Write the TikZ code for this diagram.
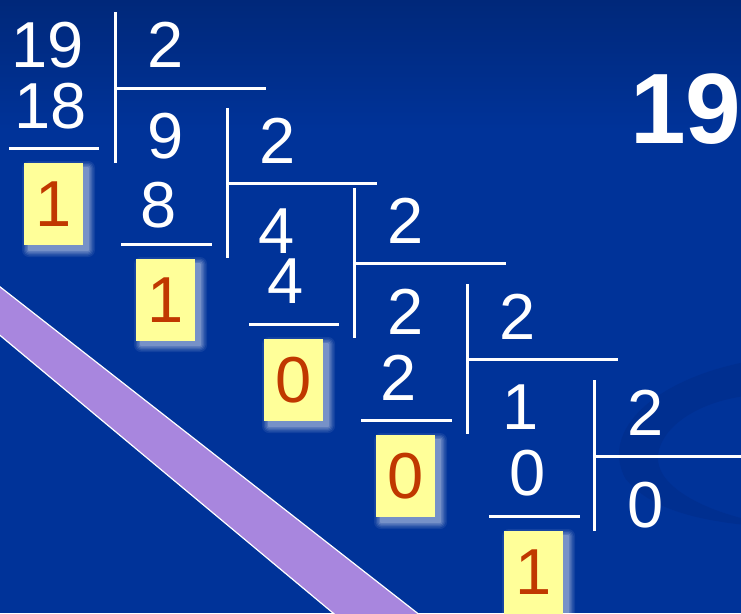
\documentclass[tikz,border=0pt]{standalone}
\usepackage{fontspec}
\setmainfont{Liberation Sans}
\definecolor{bgblue}{RGB}{0,51,153}
\definecolor{bgtop}{RGB}{0,40,122}
\definecolor{band}{RGB}{168,134,222}
\definecolor{yel}{RGB}{255,255,153}
\definecolor{redt}{RGB}{192,56,0}
\definecolor{arcblue}{RGB}{0,40,130}
\tikzset{
  dig/.style={text=white, font=\fontsize{65}{65}\selectfont, anchor=base, inner sep=0pt},
  rule/.style={draw=white, line width=3pt},
  ybox/.style={fill=yel, text=redt, font=\fontsize{65}{65}\selectfont, inner sep=0pt,
    anchor=north west, minimum width=59pt, minimum height=82pt},
  bandedge/.style={draw=white, line width=1.2pt},
}
\newcommand\myshadow[4]{%
  \foreach \s/\o in {7/0.07,5.5/0.09,4/0.11,2.5/0.14,1/0.18}{%
    \fill[white, opacity=\o, rounded corners=\s pt] (#1+5-\s, #2+5-\s) rectangle (#3+5+\s, #4+5+\s);
  }}
\begin{document}
\begin{tikzpicture}[x=1pt,y=-1pt]
\useasboundingbox (0,0) rectangle (741,613);
\clip (0,0) rectangle (741,613);
% background
\fill[bgblue] (0,0) rectangle (741,613);
\shade[top color=bgtop, bottom color=bgblue] (0,0) rectangle (741,130);
% faint crescent on the right
\fill[arcblue, opacity=0.35] (745,362) .. controls (655,380) and (600,430) .. (625,478)
  .. controls (650,510) and (700,520) .. (745,525)
  -- (745,519) .. controls (700,508) and (655,485) .. (658,455)
  .. controls (662,425) and (700,402) .. (745,396) -- cycle;
% purple band
\fill[band] (-10,279) -- (430,623) -- (345,623) -- (-10,327) -- cycle;
\coordinate (bu1) at (-10,279); \coordinate (bu2) at (430,623);
\coordinate (bl1) at (-10,327); \coordinate (bl2) at (345,623);
\draw[bandedge] (bu1) -- (bu2);
\draw[bandedge] (bl1) -- (bl2);
% shadows of yellow boxes
\myshadow{24}{163}{83}{245}
\myshadow{136}{259}{195}{340}
\myshadow{264}{339}{323}{421}
\myshadow{376}{435}{435}{517}
\myshadow{504}{531}{563}{625}
% yellow boxes
\node[ybox] (r1) at (24,163) {1};
\node[ybox] (r2) at (136,259) {1};
\node[ybox] (r3) at (264,339) {0};
\node[ybox] (r4) at (376,435) {0};
\node[ybox, minimum height=94pt, text height=0pt, text depth=0pt] (r5) at (504,531) {};
\node[text=redt, font=\fontsize{65}{65}\selectfont, anchor=base, inner sep=0pt] (r5t) at (533.5,594) {1};
% block 1
\node[dig] (a1) at (48,67) {19};
\node[dig] (a2) at (51,128) {18};
\node[dig] (d1) at (166,67) {2};
\coordinate (v1t) at (115,12); \coordinate (v1b) at (115,163);
\coordinate (h1l) at (115,88); \coordinate (h1r) at (266,88);
\coordinate (u1l) at (9,148); \coordinate (u1r) at (99,148);
\draw[rule] (v1t) -- (v1b); \draw[rule] (h1l) -- (h1r); \draw[rule] (u1l) -- (u1r);
% block 2
\node[dig] (b1) at (166,158) {9};
\node[dig] (b2) at (159,227) {8};
\node[dig] (d2) at (277.5,163) {2};
\coordinate (v2t) at (227,108); \coordinate (v2b) at (227,258);
\coordinate (h2l) at (227,183); \coordinate (h2r) at (377,183);
\coordinate (u2l) at (121,244); \coordinate (u2r) at (212,244);
\draw[rule] (v2t) -- (v2b); \draw[rule] (h2l) -- (h2r); \draw[rule] (u2l) -- (u2r);
% block 3
\node[dig] (c1) at (276.5,253) {4};
\node[dig] (c2) at (286,303) {4};
\node[dig] (d3) at (406,243) {2};
\coordinate (v3t) at (354,188); \coordinate (v3b) at (354,338);
\coordinate (h3l) at (354,263); \coordinate (h3r) at (506,263);
\coordinate (u3l) at (249,324); \coordinate (u3r) at (339,324);
\draw[rule] (v3t) -- (v3b); \draw[rule] (h3l) -- (h3r); \draw[rule] (u3l) -- (u3r);
% block 4
\node[dig] (e1) at (406,334) {2};
\node[dig] (e2) at (399,400) {2};
\node[dig] (d4) at (517.5,339) {2};
\coordinate (v4t) at (467,284); \coordinate (v4b) at (467,434);
\coordinate (h4l) at (467,359); \coordinate (h4r) at (618,359);
\coordinate (u4l) at (361,420); \coordinate (u4r) at (452,420);
\draw[rule] (v4t) -- (v4b); \draw[rule] (h4l) -- (h4r); \draw[rule] (u4l) -- (u4r);
% block 5
\node[dig] (f1) at (520.5,429) {1};
\node[dig] (f2) at (527.5,495) {0};
\node[dig] (d5) at (646,435) {2};
\node[dig] (q5) at (646,527) {0};
\coordinate (v5t) at (594,380); \coordinate (v5b) at (594,531);
\coordinate (h5l) at (594,456); \coordinate (h5r) at (745,456);
\coordinate (u5l) at (489,516); \coordinate (u5r) at (580,516);
\draw[rule] (v5t) -- (v5b); \draw[rule] (h5l) -- (h5r); \draw[rule] (u5l) -- (u5r);
% big title number
\node[text=white, font=\fontsize{100}{100}\selectfont\bfseries, anchor=base west, inner sep=0pt] (big) at (630,143) {19};
\end{tikzpicture}
\end{document}
